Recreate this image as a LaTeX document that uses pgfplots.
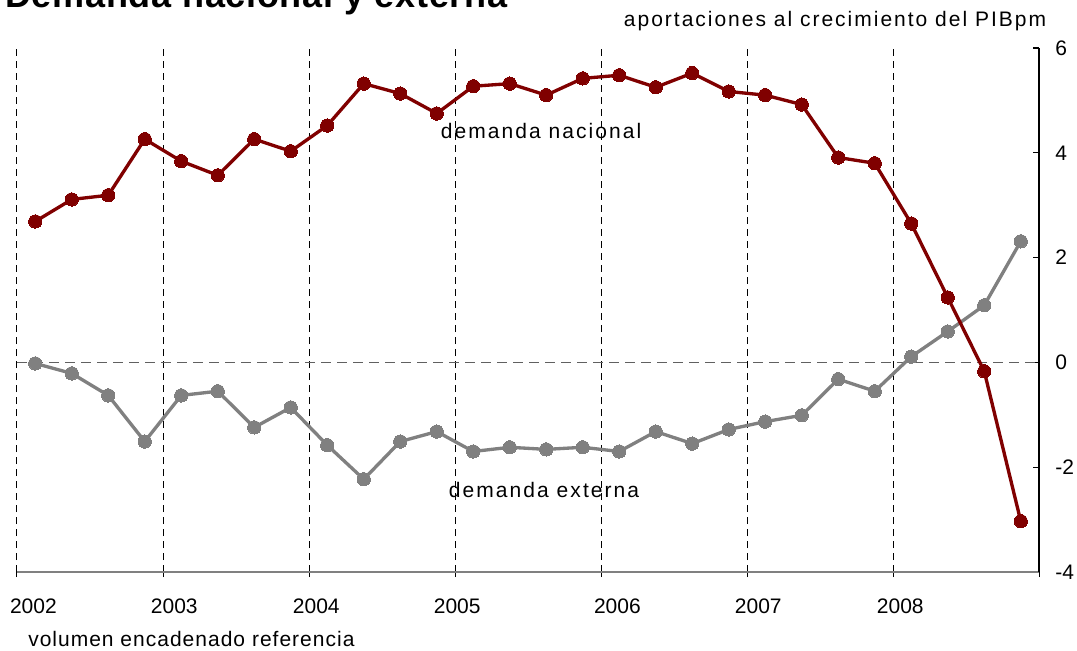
\documentclass[border=0pt]{standalone}
\usepackage{pgfplots}
\pgfplotsset{compat=1.18}
\usepackage{pgfplotstable}
\usepackage{fontspec}
\setmainfont{Liberation Sans}
\newfontfamily\spacedA[LetterSpace=9.5]{Liberation Sans}
\newfontfamily\spacedB[LetterSpace=4.8]{Liberation Sans}
\newfontfamily\spacedC[LetterSpace=9.8]{Liberation Sans}
\newfontfamily\titlefont[LetterSpace=2]{Liberation Sans}
\definecolor{rojo}{HTML}{800000}
\definecolor{gris}{HTML}{808080}

\pgfplotstableread{
x y
0 2.69
1 3.11
2 3.19
3 4.26
4 3.84
5 3.57
6 4.26
7 4.03
8 4.52
9 5.32
10 5.13
11 4.75
12 5.27
13 5.32
14 5.10
15 5.42
16 5.48
17 5.25
18 5.52
19 5.17
20 5.10
21 4.92
22 3.91
23 3.80
24 2.65
25 1.24
26 -0.17
27 -3.03
}\nacional

\pgfplotstableread{
x y
0 -0.02
1 -0.21
2 -0.63
3 -1.51
4 -0.63
5 -0.55
6 -1.24
7 -0.86
8 -1.58
9 -2.23
10 -1.51
11 -1.32
12 -1.70
13 -1.62
14 -1.66
15 -1.62
16 -1.70
17 -1.32
18 -1.55
19 -1.28
20 -1.13
21 -1.01
22 -0.32
23 -0.55
24 0.11
25 0.59
26 1.09
27 2.31
}\externa

\begin{document}
\begin{tikzpicture}
\begin{axis}[
  at={(0,0)}, anchor=south west,
  scale only axis, width=766.5pt, height=393pt,
  xmin=-0.5, xmax=27.5, ymin=-4, ymax=6,
  axis x line*=bottom, axis y line*=right,
  x axis line style={gris, line width=1.2pt, -},
  y axis line style={black, line width=0.9pt, -},
  ytick={-4,-2,0,2,4,6},
  ytick style={black, line width=0.9pt},
  major tick length=4.5pt,
  /pgf/number format/assume math mode=true,
  yticklabel style={anchor=west, inner sep=0pt, xshift=12pt, font=\fontsize{15.75}{18}\selectfont},
  xtick={-0.5,3.5,...,27.5},
  xticklabels={},
  xtick style={black, line width=0.75pt},
  tick align=inside,
  x tick style={/pgfplots/major tick length=7.5pt, /pgfplots/tick align=center},
  xmajorgrids=true,
  major grid style={black, line width=0.75pt, dash pattern=on 5.5pt off 3.5pt},
  extra x ticks={-0.05,3.81,7.70,11.56,15.95,19.81,23.70},
  extra x tick labels={2002,2003,2004,2005,2006,2007,2008},
  extra x tick style={grid=none, xtick style={draw=none},
    xticklabel style={anchor=base, inner sep=0pt, yshift=-30.75pt, font=\fontsize{15.75}{18}\selectfont}},
  clip=false,
]
\draw[gris!75!black, line width=1.3pt, dash pattern=on 7.5pt off 4.5pt] (axis cs:-0.5,0) -- (axis cs:27.5,0);
\addplot[gris, line width=2.5pt, mark=*, mark size=5pt, mark options={fill=gris, draw=gris, line width=0pt}] table[x=x,y=y] {\externa};
\addplot[rojo, line width=2.5pt, mark=*, mark size=5pt, mark options={fill=rojo, draw=rojo, line width=0pt}] table[x=x,y=y] {\nacional};
\node[anchor=base, inner sep=0pt, font=\fontsize{15.75}{18}\spacedC] at (axis cs:13.86,4.27) {demanda nacional};
\node[anchor=base, inner sep=0pt, font=\fontsize{15.75}{18}\spacedC] at (axis cs:13.94,-2.58) {demanda externa};
\end{axis}
\node[anchor=base west, inner sep=0pt, font=\fontsize{27}{30}\titlefont\bfseries] at (-9pt,423pt) {Demanda nacional y externa};
\node[anchor=base, inner sep=0pt, font=\fontsize{15.75}{18}\spacedA] at (613.5pt,408.75pt) {aportaciones al crecimiento del PIBpm};
\node[anchor=base west, inner sep=0pt, font=\fontsize{15.75}{18}\spacedB] at (8.25pt,-55.5pt) {volumen encadenado referencia};
\pgfresetboundingbox
\useasboundingbox (-12.75pt,-58.5pt) rectangle (795pt,429pt);
\end{tikzpicture}
\end{document}
